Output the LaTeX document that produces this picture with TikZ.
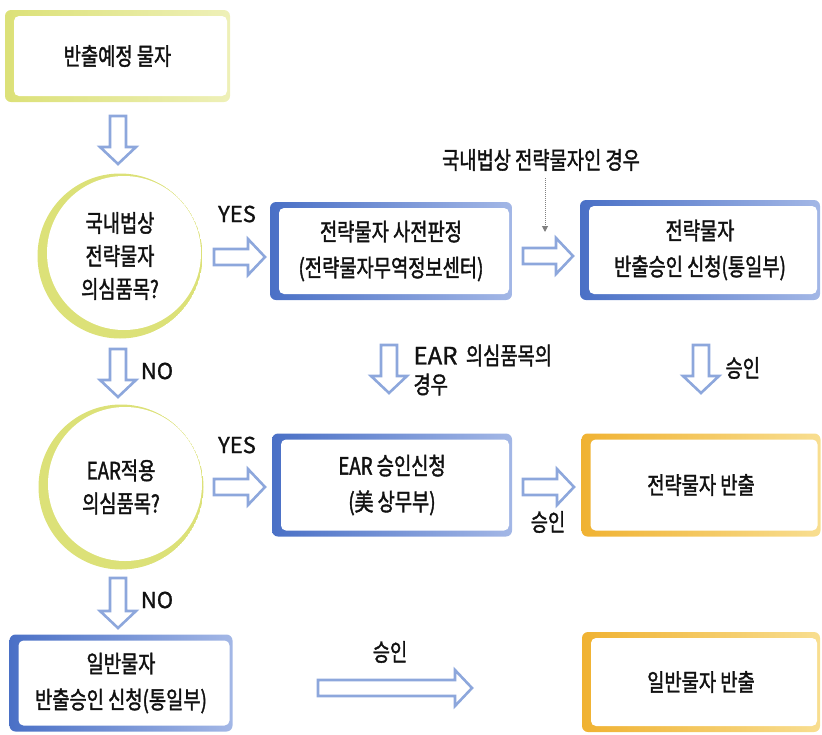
\documentclass[tikz,border=0pt]{standalone}
\usepackage{fontspec}
\setmainfont[FakeStretch=0.78,FakeBold=1.5]{Noto Sans CJK KR}
\newfontfamily\latf[FakeBold=1.2]{Noto Sans CJK KR}
\usetikzlibrary{arrows.meta}
\definecolor{ylw}{HTML}{DCE178}
\definecolor{ylwl}{HTML}{EEF0B8}
\definecolor{blu}{HTML}{4A70C6}
\definecolor{blul}{HTML}{A3B7E6}
\definecolor{org}{HTML}{F0B232}
\definecolor{orgl}{HTML}{F8DE90}
\definecolor{arrc}{HTML}{8DA7DC}
\definecolor{txt}{HTML}{111111}
\tikzset{
  fancy/.style 2 args={rectangle, rounded corners=6pt, align=center, text=txt,
    font=\fontsize{24}{36}\selectfont,
    path picture={
      \shade[left color=#1, right color=#2]
        (path picture bounding box.south west) rectangle (path picture bounding box.north east);
      \fill[white, rounded corners=5pt]
        ([xshift=9pt,yshift=6pt]path picture bounding box.south west) rectangle
        ([xshift=-3pt,yshift=-6pt]path picture bounding box.north east);
    }},
  ylwbox/.style={fancy={ylw}{ylwl}},
  blubox/.style={fancy={blu}{blul}},
  orgbox/.style={fancy={org}{orgl}},
  ring/.style={circle, minimum size=165pt, inner sep=0pt, align=center, text=txt,
    font=\fontsize{24}{33}\selectfont,
    path picture={
      \fill[ylw] (path picture bounding box.center) circle (82.5pt);
      \fill[white] ([xshift=4pt,yshift=3pt]path picture bounding box.center) circle (77pt);
    }},
  barrowline/.style={draw=arrc, line width=2.6pt, fill=white, line join=miter},
  lbl/.style={text=txt, font=\fontsize{24}{29}\selectfont},
  lbll/.style={text=txt, font=\latf\fontsize{22}{29}\selectfont},
}
% horizontal block arrow: name, x1, x2, y
\newcommand{\hblock}[4]{%
  \draw[barrowline] ({#2},{#4-8}) -- ({#3-17},{#4-8}) -- ({#3-17},{#4-18}) -- ({#3},{#4})
    -- ({#3-17},{#4+18}) -- ({#3-17},{#4+8}) -- ({#2},{#4+8}) -- cycle;
  \coordinate (#1) at ({(#2+#3)/2},{#4});}
% vertical block arrow: name, x, y1, y2
\newcommand{\vblock}[4]{%
  \draw[barrowline] ({#2-8},{#3}) -- ({#2-8},{#4-17}) -- ({#2-18},{#4-17}) -- ({#2},{#4})
    -- ({#2+18},{#4-17}) -- ({#2+8},{#4-17}) -- ({#2+8},{#3}) -- cycle;
  \coordinate (#1) at ({#2},{(#3+#4)/2});}
\begin{document}
\begin{tikzpicture}[x=1pt,y=-1pt]
\useasboundingbox (0,0) rectangle (822,734);
% boxes
\node[ylwbox, minimum width=225pt, minimum height=92pt] (b1) at (117.5,56) {반출예정 물자};
\node[ring] (c1) at (120,256) {국내법상\\전략물자\\의심품목?};
\node[blubox, minimum width=242pt, minimum height=98pt] (b2) at (391,251) {전략물자 사전판정\\(전략물자무역정보센터)};
\node[blubox, minimum width=240pt, minimum height=100pt] (b3) at (700,250) {전략물자\\반출승인 신청(통일부)};
\node[ring] (c2) at (121,487) {EAR적용\\의심품목?};
\node[blubox, minimum width=240pt, minimum height=103pt] (b4) at (392,485) {EAR 승인신청\\(美 상무부)};
\node[orgbox, minimum width=239pt, minimum height=103pt] (b5) at (701,485) {전략물자 반출};
\node[blubox, minimum width=223pt, minimum height=97pt] (b6) at (121,683) {일반물자\\반출승인 신청(통일부)};
\node[orgbox, minimum width=238pt, minimum height=100pt] (b7) at (701,682) {일반물자 반출};
% block arrows
\vblock{a1}{118}{116}{164}
\hblock{a2}{214}{265}{257}
\hblock{a3}{523}{573}{256}
\vblock{a4}{118}{349}{397}
\vblock{a5}{389}{345}{393}
\vblock{a6}{701}{345}{393}
\hblock{a7}{214}{265}{487}
\hblock{a8}{523}{574}{487}
\vblock{a9}{118}{578}{628}
\hblock{a10}{318}{472}{688}
% labels
\node[lbll] (lyes1) at (237,214) {YES};
\node[lbll] (lno1) at (157,371) {NO};
\node[lbl, anchor=west, align=left] (lear) at (410,370) {{\latf EAR}\ \ 의심품목의\\경우};
\node[lbl, anchor=west] (lok1) at (722,368) {승인};
\node[lbll] (lyes2) at (237,445) {YES};
\node[lbl] (lok2) at (548,522) {승인};
\node[lbll] (lno2) at (157,600) {NO};
\node[lbl] (lok3) at (390,652) {승인};
\node[lbl] (ltop) at (541,160) {국내법상 전략물자인 경우};
\coordinate (dend) at (545,232);
\draw[gray, densely dotted, line width=1pt, -{Triangle[width=6pt,length=6pt]}]
  ([xshift=4pt,yshift=-4pt]ltop.south) -- (dend);
\end{tikzpicture}
\end{document}
